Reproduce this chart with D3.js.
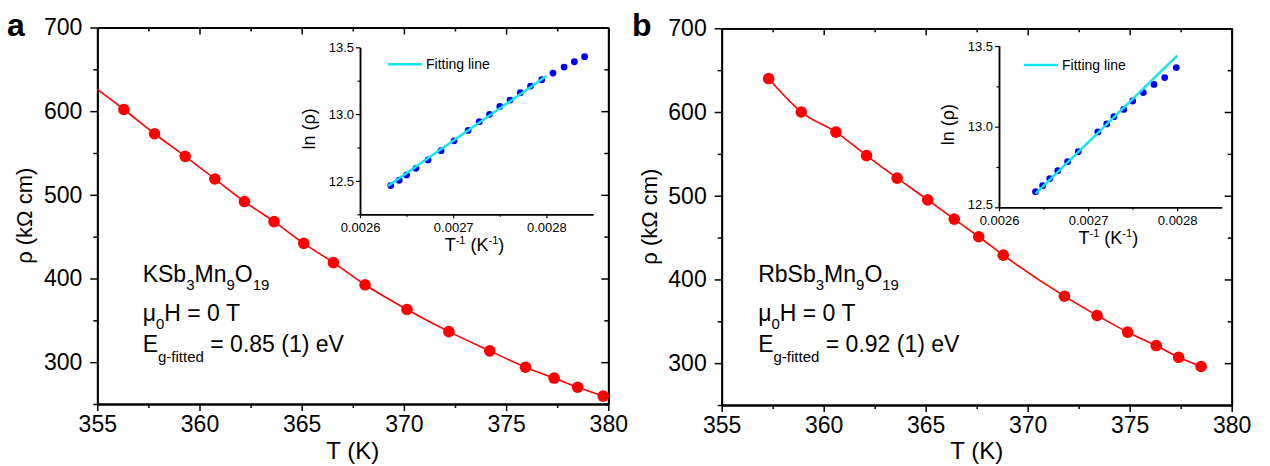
<!DOCTYPE html>
<html><head><meta charset="utf-8">
<script src="https://cdn.jsdelivr.net/npm/d3@7"></script>
<style>
body{margin:0;background:#fff}
text{font-family:"Liberation Sans",Arial,Helvetica,sans-serif;fill:#000}
</style>
</head><body>
<svg id="c" width="1270" height="466"></svg>
<script>
// ---------------- DATA ----------------
// Panel a: KSb3Mn9O19
const tA   = [356.3, 357.8, 359.3, 360.75, 362.2, 363.65, 365.1, 366.55, 368.1, 370.15, 372.2, 374.2, 375.95, 377.35, 378.5, 379.75];
const rhoA = [602, 573, 546, 519, 492, 468, 442, 419, 392.5, 363, 336.5, 313.5, 294, 281, 270, 259.5];
const lineStartA = [355, 626];           // guide line extends to the axis at 355 K
// Panel b: RbSb3Mn9O19
const tB   = [357.3, 358.9, 360.6, 362.1, 363.6, 365.1, 366.4, 367.6, 368.8, 371.8, 373.4, 374.9, 376.3, 377.4, 378.5];
const rhoB = [640, 600, 576, 548, 521, 495, 472, 451, 429, 380, 357, 337, 321, 307, 296];
// Inset a: ln(rho) vs 1/T
const invTA  = [0.002633, 0.002642, 0.00265, 0.00266, 0.002673, 0.002687, 0.002701, 0.002716, 0.002728, 0.002739, 0.00275, 0.002761, 0.002772, 0.002783, 0.002795, 0.002807, 0.002819, 0.00283, 0.002841];
const lnRhoA = [12.465, 12.505, 12.545, 12.594, 12.657, 12.726, 12.80, 12.878, 12.943, 12.998, 13.057, 13.105, 13.16, 13.21, 13.257, 13.307, 13.352, 13.392, 13.43];
const fitAx = [0.00263, 0.0028];
const fitAy = [12.462, 13.285];
// Inset b
const invTB  = [0.002641, 0.002649, 0.002657, 0.002666, 0.002677, 0.002689, 0.002711, 0.002721, 0.002729, 0.00274, 0.00275, 0.002762, 0.002774, 0.002786, 0.002799];
const lnRhoB = [12.597, 12.634, 12.678, 12.727, 12.783, 12.845, 12.967, 13.017, 13.062, 13.107, 13.159, 13.211, 13.262, 13.304, 13.366];
const fitBx = [0.002641, 0.0028];
const fitBy = [12.585, 13.44];
// Axes / ticks
const mainXDomain = [355, 380];
const mainYDomain = [250, 700];
const mainXTicks = [355, 360, 365, 370, 375, 380];
const mainXMinor = [357.5, 362.5, 367.5, 372.5, 377.5];
const mainYTicks = [300, 400, 500, 600, 700];
const mainYMinor = [250, 350, 450, 550, 650];
const insetXDomain = [0.0026, 0.00285];
const insetXTicks = [0.0026, 0.0027, 0.0028];
const insetXTickLabels = ["0.0026", "0.0027", "0.0028"];
const insetXMinor = [0.00265, 0.00275];
const insetYTicks = [12.5, 13.0, 13.5];
const insetYTickLabels = ["12.5", "13.0", "13.5"];
const insetYMinorA = [12.25, 12.75, 13.25];
const insetYMinorB = [12.75, 13.25];
const formulaA = [["KSb",0],["3",1],["Mn",0],["9",1],["O",0],["19",1]];
const formulaB = [["RbSb",0],["3",1],["Mn",0],["9",1],["O",0],["19",1]];
const egA = "0.85 (1) eV";
const egB = "0.92 (1) eV";

// ---------------- DRAW ----------------
const svg = d3.select("#c");
const RED = "#ff0000", BLUE = "#0000f0", CYAN = "#10e6f0";
const FONT = '"Liberation Sans",Arial,sans-serif';

function richText(g, x, y, parts, size, subSize, subDy) {
  const t = g.append("text").attr("x", x).attr("y", y).attr("font-size", size);
  let cur = 0;
  parts.forEach(([s, k]) => {
    const target = k === 1 ? subDy : (k === -1 ? -subDy : 0);
    t.append("tspan").attr("dy", target - cur).attr("font-size", k ? subSize : size).text(s);
    cur = target;
  });
  return t;
}

function panel(cfg) {
  const g = svg.append("g");
  const x = d3.scaleLinear().domain(mainXDomain).range([cfg.l, cfg.r]);
  const y = d3.scaleLinear().domain(mainYDomain).range([cfg.b, cfg.t]);

  const styleAxis = (sel) => {
    sel.selectAll(".domain").attr("stroke", "#000").attr("stroke-width", 1.8);
    sel.selectAll(".tick line").attr("stroke", "#000").attr("stroke-width", 1.5);
    sel.selectAll(".tick text").attr("font-size", 23).attr("font-family", FONT).attr("fill", "#000");
  };
  // bottom
  g.append("g").attr("transform", `translate(0,${cfg.b})`)
    .call(d3.axisBottom(x).tickValues(mainXTicks).tickFormat(d3.format("d")).tickSize(7).tickSizeOuter(0).tickPadding(5))
    .call(styleAxis);
  g.append("g").attr("transform", `translate(0,${cfg.b})`)
    .call(d3.axisBottom(x).tickValues(mainXMinor).tickFormat("").tickSize(4).tickSizeOuter(0))
    .call(styleAxis);
  // top (ticks pointing inward)
  g.append("g").attr("transform", `translate(0,${cfg.t})`)
    .call(d3.axisTop(x).tickValues(mainXTicks).tickFormat("").tickSize(-7).tickSizeOuter(0))
    .call(styleAxis);
  g.append("g").attr("transform", `translate(0,${cfg.t})`)
    .call(d3.axisTop(x).tickValues(mainXMinor).tickFormat("").tickSize(-4).tickSizeOuter(0))
    .call(styleAxis);
  // left
  g.append("g").attr("transform", `translate(${cfg.l},0)`)
    .call(d3.axisLeft(y).tickValues(mainYTicks).tickFormat(d3.format("d")).tickSize(7).tickSizeOuter(0).tickPadding(8))
    .call(styleAxis);
  g.append("g").attr("transform", `translate(${cfg.l},0)`)
    .call(d3.axisLeft(y).tickValues(mainYMinor).tickFormat("").tickSize(4).tickSizeOuter(0))
    .call(styleAxis);
  // right (inward)
  g.append("g").attr("transform", `translate(${cfg.r},0)`)
    .call(d3.axisRight(y).tickValues(mainYTicks).tickFormat("").tickSize(-7).tickSizeOuter(0))
    .call(styleAxis);
  g.append("g").attr("transform", `translate(${cfg.r},0)`)
    .call(d3.axisRight(y).tickValues(mainYMinor).tickFormat("").tickSize(-4).tickSizeOuter(0))
    .call(styleAxis);

  // axis titles
  g.append("text").attr("x", (cfg.l + cfg.r) / 2).attr("y", 459)
    .attr("text-anchor", "middle").attr("font-size", 24).text("T (K)");
  g.append("text").attr("transform", `translate(${cfg.l - 65},${(cfg.t + cfg.b) / 2}) rotate(-90)`)
    .attr("text-anchor", "middle").attr("font-size", 22).text("ρ (kΩ cm)");
  // panel letter
  g.append("text").attr("x", cfg.letterX).attr("y", 36).attr("font-size", 32)
    .attr("font-weight", "bold").text(cfg.letter);

  // data line + points
  const pts = cfg.T.map((t, i) => [t, cfg.rho[i]]);
  const linePts = cfg.start ? [cfg.start, ...pts] : pts;
  g.append("path").datum(linePts)
    .attr("d", d3.line().x(d => x(d[0])).y(d => y(d[1])).curve(d3.curveMonotoneX))
    .attr("fill", "none").attr("stroke", RED).attr("stroke-width", 1.6);
  g.selectAll("circle.m").data(pts).join("circle").attr("class", "m")
    .attr("cx", d => x(d[0])).attr("cy", d => y(d[1])).attr("r", 5.8).attr("fill", RED);

  // annotation
  const ax = cfg.l + cfg.annDx;
  richText(g, ax, 281.7, cfg.formula, 23, 15, 8);
  richText(g, ax, 321, [["μ",0],["0",1],["H = 0 T",0]], 23, 15, 8);
  richText(g, ax, 352, [["E",0],["g-fitted",1],[" = " + cfg.eg,0]], 23, 15, 10);

  // ---- inset ----
  const ins = cfg.inset;
  const ix = d3.scaleLinear().domain(insetXDomain).range([ins.l, ins.r]);
  const iy = d3.scaleLinear().domain(ins.yDomain).range([ins.b, ins.t]);
  const styleInset = (sel) => {
    sel.selectAll(".domain").attr("stroke", "#000").attr("stroke-width", 1.5);
    sel.selectAll(".tick line").attr("stroke", "#000").attr("stroke-width", 1.2);
    sel.selectAll(".tick text").attr("font-size", 13).attr("font-family", FONT).attr("fill", "#000");
  };
  g.append("g").attr("transform", `translate(0,${ins.b})`)
    .call(d3.axisBottom(ix).tickValues(insetXTicks).tickFormat((d, i) => insetXTickLabels[i]).tickSize(4).tickSizeOuter(0).tickPadding(4))
    .call(styleInset);
  g.append("g").attr("transform", `translate(0,${ins.b})`)
    .call(d3.axisBottom(ix).tickValues(insetXMinor).tickFormat("").tickSize(2.5).tickSizeOuter(0))
    .call(styleInset);
  g.append("g").attr("transform", `translate(${ins.l},0)`)
    .call(d3.axisLeft(iy).tickValues(insetYTicks).tickFormat((d, i) => insetYTickLabels[i]).tickSize(4).tickSizeOuter(0).tickPadding(2))
    .call(styleInset)
    .call(s => s.selectAll(".tick text").attr("dy", d => d === ins.yDomain[0] ? "0.1em" : "0.32em"));
  g.append("g").attr("transform", `translate(${ins.l},0)`)
    .call(d3.axisLeft(iy).tickValues(ins.yMinor).tickFormat("").tickSize(2.5).tickSizeOuter(0))
    .call(styleInset);

  g.append("text").attr("transform", `translate(${ins.l - 45},${(ins.t + ins.b) / 2 - 2}) rotate(-90)`)
    .attr("text-anchor", "middle").attr("font-size", 18).text("ln (ρ)");
  const tl = richText(g, 0, ins.b + 37, [["T",0],["-1",-1],[" (K",0],["-1",-1],[")",0]], 18, 11, 7);
  tl.attr("x", (ins.l + ins.r) / 2 - 2).attr("text-anchor", "middle");

  const ipts = cfg.invT.map((v, i) => [v, cfg.lnRho[i]]);
  g.selectAll("circle.i").data(ipts).join("circle").attr("class", "i")
    .attr("cx", d => ix(d[0])).attr("cy", d => iy(d[1])).attr("r", 3.4).attr("fill", BLUE);
  const fit = cfg.fitX.map((v, i) => [v, cfg.fitY[i]]);
  g.append("path").datum(fit)
    .attr("d", d3.line().x(d => ix(d[0])).y(d => iy(d[1])))
    .attr("stroke", CYAN).attr("stroke-width", 2.4).attr("fill", "none");
  // legend
  g.append("line").attr("x1", ins.l + ins.legDx).attr("x2", ins.l + ins.legDx + 34)
    .attr("y1", ins.legY).attr("y2", ins.legY).attr("stroke", CYAN).attr("stroke-width", 2.4);
  g.append("text").attr("x", ins.l + ins.legDx + 38).attr("y", ins.legY + 5)
    .attr("font-size", 14).text("Fitting line");
}

panel({
  l: 97.3, r: 608.3, t: 27.5, b: 404, letter: "a", letterX: 7,
  T: tA, rho: rhoA, start: lineStartA, formula: formulaA, eg: egA, annDx: 45.4,
  invT: invTA, lnRho: lnRhoA, fitX: fitAx, fitY: fitAy,
  inset: { l: 360, r: 593, t: 47.3, b: 214.3, yDomain: [12.25, 13.5], yMinor: insetYMinorA, legDx: 28, legY: 64.3 }
});
panel({
  l: 721.7, r: 1231.7, t: 28.3, b: 405, letter: "b", letterX: 632,
  T: tB, rho: rhoB, start: null, formula: formulaB, eg: egB, annDx: 36.5,
  invT: invTB, lnRho: lnRhoB, fitX: fitBx, fitY: fitBy,
  inset: { l: 999, r: 1221.7, t: 46, b: 207.3, yDomain: [12.5, 13.5], yMinor: insetYMinorB, legDx: 25, legY: 65 }
});
</script>
</body></html>
